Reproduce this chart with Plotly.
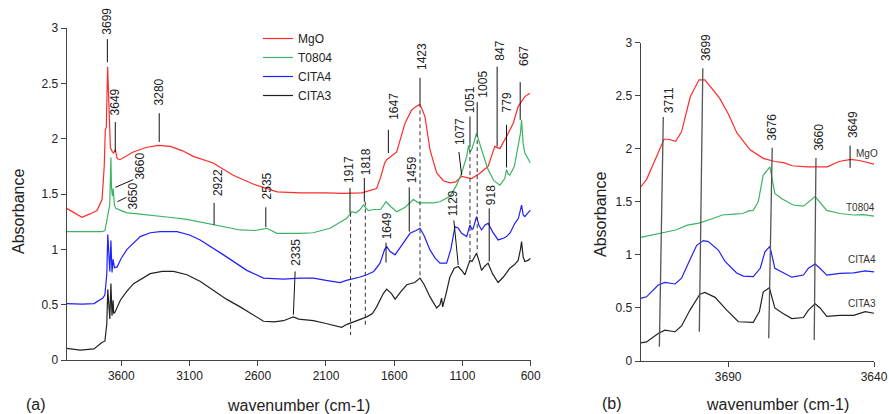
import plotly.graph_objects as go

# ---------------- data : panel (a) ----------------
series_names = ["MgO", "T0804", "CITA4", "CITA3"]
series_colors = ["#ff2a2a", "#3cb464", "#1f1fff", "#222222"]

mgo_wn = [4000, 3940, 3888, 3830, 3778, 3741, 3725, 3717, 3710, 3700, 3690, 3680, 3665, 3656, 3644, 3630, 3610,
          3580, 3512, 3420, 3329, 3241, 3150, 3073, 2927, 2780, 2634, 2458, 2290, 2100, 1980, 1838, 1780, 1729,
          1700, 1670, 1655, 1620, 1582, 1521, 1472, 1440, 1411, 1375, 1338, 1289, 1240, 1192, 1150, 1106, 1033,
          980, 912, 863, 826, 777, 728, 692, 643, 606]
mgo_abs = [1.37, 1.33, 1.29, 1.32, 1.35, 1.45, 1.75, 2.08, 2.10, 2.65, 2.20, 1.92, 1.88, 1.87, 1.90, 1.82, 1.81,
           1.83, 1.88, 1.92, 1.94, 1.93, 1.89, 1.84, 1.78, 1.67, 1.59, 1.52, 1.51, 1.51, 1.505, 1.51, 1.53, 1.55,
           1.65, 1.78, 1.81, 1.84, 1.88, 2.14, 2.26, 2.29, 2.31, 2.20, 1.90, 1.69, 1.62, 1.60, 1.61, 1.66, 1.64,
           1.68, 1.75, 1.93, 1.91, 2.02, 2.14, 2.29, 2.38, 2.41]

t0804_wn = [4000, 3900, 3800, 3740, 3720, 3700, 3685, 3676, 3672, 3665, 3660, 3650, 3640, 3600, 3558, 3480, 3388,
            3250, 3119, 3000, 2927, 2850, 2729, 2620, 2560, 2535, 2500, 2460, 2290, 2195, 2070, 2000, 1948, 1911,
            1880, 1850, 1826, 1790, 1753, 1700, 1660, 1620, 1582, 1520, 1460, 1420, 1387, 1320, 1265, 1192, 1143,
            1106, 1069, 1055, 1045, 1033, 1015, 997, 960, 912, 870, 826, 790, 777, 765, 753, 720, 692, 675, 667,
            655, 643, 602]
t0804_abs = [1.16, 1.16, 1.155, 1.16, 1.17, 1.30, 1.40, 1.83, 1.56, 1.48, 1.55, 1.40, 1.37, 1.35, 1.33, 1.32, 1.31,
             1.29, 1.27, 1.24, 1.22, 1.20, 1.175, 1.17, 1.18, 1.19, 1.17, 1.145, 1.145, 1.15, 1.19, 1.24, 1.28, 1.34,
             1.33, 1.36, 1.40, 1.35, 1.36, 1.36, 1.43, 1.38, 1.34, 1.38, 1.45, 1.42, 1.42, 1.42, 1.43, 1.48, 1.58,
             1.69, 1.84, 1.94, 1.88, 1.90, 1.97, 2.05, 1.90, 1.72, 1.62, 1.58, 1.64, 1.72, 1.68, 1.67, 1.75, 1.93,
             2.05, 2.17, 1.95, 1.87, 1.78]

cita4_wn = [4000, 3888, 3800, 3754, 3735, 3720, 3711, 3706, 3699, 3691, 3684, 3676, 3668, 3660, 3650, 3640, 3631,
            3600, 3558, 3461, 3388, 3315, 3192, 3100, 3022, 2851, 2680, 2558, 2412, 2290, 2192, 2100, 1997, 1950,
            1911, 1850, 1801, 1750, 1704, 1670, 1655, 1630, 1594, 1540, 1484, 1440, 1411, 1380, 1338, 1300, 1265,
            1216, 1185, 1155, 1130, 1106, 1069, 1045, 1030, 1021, 997, 980, 960, 935, 912, 880, 839, 800, 777, 750,
            716, 690, 675, 667, 655, 643, 620, 602]
cita4_abs = [0.51, 0.505, 0.51, 0.54, 0.56, 0.59, 0.74, 0.78, 1.135, 0.94, 0.80, 1.08, 0.79, 0.91, 0.83, 0.84, 0.84,
             0.92, 1.00, 1.115, 1.15, 1.16, 1.16, 1.13, 1.085, 0.95, 0.81, 0.74, 0.73, 0.74, 0.74, 0.72, 0.70, 0.72,
             0.73, 0.75, 0.77, 0.80, 0.875, 1.00, 1.025, 0.98, 0.95, 1.05, 1.145, 1.17, 1.19, 1.12, 0.995, 0.92, 0.875,
             0.875, 1.00, 1.205, 1.19, 1.145, 1.115, 1.22, 1.18, 1.19, 1.295, 1.22, 1.175, 1.22, 1.235, 1.16, 1.085,
             1.10, 1.115, 1.15, 1.235, 1.28, 1.36, 1.40, 1.31, 1.295, 1.33, 1.355]

cita3_wn = [4000, 3900, 3800, 3760, 3740, 3720, 3711, 3706, 3699, 3690, 3684, 3676, 3672, 3668, 3660, 3656, 3647,
            3640, 3620, 3607, 3560, 3510, 3388, 3300, 3217, 3119, 3020, 2924, 2830, 2729, 2640, 2558, 2480, 2412,
            2360, 2339, 2300, 2192, 2100, 1985, 1950, 1911, 1860, 1801, 1760, 1729, 1680, 1655, 1620, 1594, 1550,
            1508, 1450, 1411, 1380, 1338, 1289, 1265, 1253, 1245, 1220, 1192, 1160, 1131, 1100, 1082, 1060, 1045,
            1030, 997, 980, 960, 935, 912, 880, 839, 800, 753, 720, 692, 675, 667, 655, 643, 620, 602]
cita3_abs = [0.105, 0.09, 0.10, 0.14, 0.16, 0.17, 0.29, 0.33, 0.64, 0.48, 0.37, 0.69, 0.47, 0.40, 0.54, 0.42, 0.43,
             0.45, 0.50, 0.54, 0.62, 0.69, 0.78, 0.80, 0.80, 0.77, 0.71, 0.63, 0.55, 0.48, 0.41, 0.35, 0.345, 0.355,
             0.38, 0.39, 0.37, 0.355, 0.33, 0.295, 0.32, 0.34, 0.36, 0.39, 0.42, 0.48, 0.60, 0.64, 0.60, 0.55, 0.62,
             0.68, 0.70, 0.74, 0.68, 0.57, 0.47, 0.50, 0.56, 0.48, 0.60, 0.75, 0.83, 0.845, 0.80, 0.77, 0.85, 0.90,
             0.89, 0.965, 0.90, 0.81, 0.85, 0.875, 0.78, 0.70, 0.75, 0.83, 0.86, 0.90, 1.00, 1.07, 0.93, 0.89, 0.90,
             0.92]

# ---------------- data : panel (b) ----------------
mgo_b_wn = [3720, 3718, 3712, 3710.5, 3708, 3706, 3703, 3700, 3698, 3693, 3690, 3687, 3682.5, 3678, 3674, 3671,
            3668, 3663, 3656, 3652, 3648, 3645, 3640]
mgo_b_abs = [1.64, 1.71, 2.09, 2.09, 2.07, 2.16, 2.49, 2.65, 2.65, 2.48, 2.33, 2.15, 1.99, 1.91, 1.88, 1.87,
             1.84, 1.83, 1.83, 1.88, 1.90, 1.89, 1.855]

t0804_b_wn = [3720, 3714, 3708, 3704, 3700, 3695, 3692, 3688, 3685, 3683, 3681.4, 3679.7, 3678, 3675.7, 3674,
              3671.6, 3667.7, 3664.2, 3660.2, 3656.2, 3651.7, 3647, 3643.7, 3640]
t0804_b_abs = [1.165, 1.20, 1.235, 1.28, 1.30, 1.345, 1.376, 1.385, 1.39, 1.415, 1.42, 1.50, 1.75, 1.83, 1.58,
               1.53, 1.47, 1.46, 1.55, 1.42, 1.39, 1.376, 1.38, 1.365]

cita4_b_wn = [3720, 3718, 3714, 3711.7, 3708.2, 3706, 3703.7, 3700.8, 3698.5, 3696.8, 3693.4, 3691, 3687.1,
              3684.8, 3681.4, 3679, 3677.4, 3675.7, 3674, 3671.6, 3668.2, 3664.2, 3662.5, 3660.2, 3658.5, 3656.2,
              3651.7, 3647, 3643, 3640]
cita4_b_abs = [0.59, 0.605, 0.716, 0.74, 0.726, 0.78, 0.92, 1.09, 1.135, 1.125, 1.046, 0.936, 0.83, 0.80, 0.795,
               0.874, 1.03, 1.08, 0.874, 0.84, 0.79, 0.81, 0.874, 0.914, 0.874, 0.81, 0.826, 0.83, 0.85, 0.84]

cita3_b_wn = [3720, 3718, 3714, 3711.7, 3708.2, 3706, 3703.1, 3699.7, 3698, 3694.5, 3690.5, 3686.5, 3681.4,
              3679.3, 3678, 3675.9, 3674, 3671.6, 3668.2, 3664.2, 3662.5, 3660.2, 3658.5, 3656.2, 3651.7, 3647,
              3643, 3640]
cita3_b_abs = [0.17, 0.18, 0.26, 0.29, 0.276, 0.33, 0.48, 0.63, 0.647, 0.60, 0.48, 0.37, 0.365, 0.465, 0.65,
               0.69, 0.50, 0.455, 0.40, 0.41, 0.48, 0.54, 0.50, 0.42, 0.43, 0.43, 0.465, 0.45]

# ---------------- peak labels ----------------
labels_a = ["3699", "3649", "3280", "3660", "3650", "2922", "2535", "2335", "1917", "1818", "1647", "1459",
            "1423", "1649", "1129", "1077", "1051", "1005", "918", "847", "779", "667"]
labels_a_wn = [3702, 3644, 3322, 3461, 3512, 2890, 2531, 2326, 1936, 1801, 1607, 1472,
               1395, 1651, 1170, 1118, 1045, 948, 892, 826, 777, 648]
labels_a_abs = [2.92, 2.19, 2.28, 1.61, 1.34, 1.46, 1.43, 0.83, 1.58, 1.655, 2.15, 1.58,
                2.60, 1.07, 1.28, 1.92, 2.215, 2.35, 1.38, 2.685, 2.215, 2.64]
# leader lines (wn0, abs0, wn1, abs1)
leaders_a = [(3702, 2.90, 3702, 2.69), (3644, 2.15, 3644, 1.88), (3322, 2.23, 3322, 1.97),
             (3512, 1.63, 3644, 1.56), (3563, 1.47, 3629, 1.43), (2920, 1.42, 2920, 1.22),
             (2541, 1.38, 2541, 1.20), (2326, 0.80, 2339, 0.41), (1924, 1.555, 1924, 1.33),
             (1819, 1.645, 1819, 1.43), (1643, 2.08, 1643, 1.87), (1490, 1.56, 1490, 1.16),
             (1411, 2.55, 1411, 2.32), (1660, 1.06, 1660, 0.88), (1163, 1.26, 1131, 0.86),
             (1126, 1.88, 1106, 1.67), (1045, 2.20, 1045, 1.96), (992, 2.33, 992, 2.05),
             (904, 1.37, 904, 0.89), (846, 2.65, 846, 1.93), (777, 2.125, 777, 1.74), (677, 2.51, 677, 2.17)]
dashed_a = [(1920, 1.33, 1920, 0.226), (1812, 1.43, 1812, 0.30), (1411, 2.32, 1411, 0.75),
            (1045, 1.96, 1045, 0.88), (992, 2.05, 992, 0.97)]

labels_b = ["3711", "3699", "3676", "3660", "3649"]
labels_b_wn = [3710.5, 3697.4, 3674.9, 3659.1, 3647.1]
labels_b_abs = [2.32, 2.81, 2.055, 1.96, 2.08]
leaders_b = [(3712.25, 2.30, 3713.6, 0.135), (3698.7, 2.76, 3699.9, 0.276), (3674.9, 2.01, 3676.1, 0.214),
             (3659.9, 1.913, 3660.5, 0.198), (3648.2, 2.03, 3648.2, 1.82)]
series_b_label_wn = [3642.5, 3644.8, 3644.2, 3644.2]
series_b_label_abs = [1.96, 1.45, 0.96, 0.54]

# ---------------- figure ----------------
FONT = "Liberation Sans, Arial, sans-serif"
TXT = "#222222"
fig = go.Figure()

a_data = [(mgo_wn, mgo_abs), (t0804_wn, t0804_abs), (cita4_wn, cita4_abs), (cita3_wn, cita3_abs)]
b_data = [(mgo_b_wn, mgo_b_abs), (t0804_b_wn, t0804_b_abs), (cita4_b_wn, cita4_b_abs), (cita3_b_wn, cita3_b_abs)]

for name, col, (wx, ay) in zip(series_names, series_colors, a_data):
    fig.add_trace(go.Scatter(x=wx, y=ay, mode="lines", name=name, line=dict(color=col, width=1.2),
                             xaxis="x", yaxis="y"))
for name, col, (wx, ay) in zip(series_names, series_colors, b_data):
    fig.add_trace(go.Scatter(x=wx, y=ay, mode="lines", name=name, showlegend=False,
                             line=dict(color=col, width=1.2), xaxis="x2", yaxis="y2"))

shapes = []
for (x0, y0, x1, y1) in leaders_a:
    shapes.append(dict(type="line", xref="x", yref="y", x0=x0, y0=y0, x1=x1, y1=y1,
                       line=dict(color="#111111", width=1)))
for (x0, y0, x1, y1) in dashed_a:
    shapes.append(dict(type="line", xref="x", yref="y", x0=x0, y0=y0, x1=x1, y1=y1,
                       line=dict(color="#333333", width=1, dash="4px,3px")))
for i, (x0, y0, x1, y1) in enumerate(leaders_b):
    shapes.append(dict(type="line", xref="x2", yref="y2", x0=x0, y0=y0, x1=x1, y1=y1,
                       line=dict(color="#111111" if i == 4 else "#555555", width=1.3 if i < 4 else 1)))

annotations = []
for t, wx, ay in zip(labels_a, labels_a_wn, labels_a_abs):
    annotations.append(dict(text=t, x=wx, y=ay, xref="x", yref="y", showarrow=False, textangle=-90,
                            xanchor="center", yanchor="bottom", font=dict(family=FONT, size=12, color=TXT)))
for t, wx, ay in zip(labels_b, labels_b_wn, labels_b_abs):
    annotations.append(dict(text=t, x=wx, y=ay, xref="x2", yref="y2", showarrow=False, textangle=-90,
                            xanchor="center", yanchor="bottom", font=dict(family=FONT, size=12, color=TXT)))
for t, wx, ay in zip(series_names, series_b_label_wn, series_b_label_abs):
    annotations.append(dict(text=t, x=wx, y=ay, xref="x2", yref="y2", showarrow=False,
                            xanchor="center", yanchor="middle", font=dict(family=FONT, size=10, color="#333333")))

W, H = 889, 414
def px_x(p): return p / W
def px_y(p): return 1 - p / H

title_font = dict(family=FONT, size=16, color=TXT)
annotations += [
    dict(text="Absorbance", x=px_x(18), y=px_y(212), xref="paper", yref="paper", showarrow=False,
         textangle=-90, font=title_font, xanchor="center", yanchor="middle"),
    dict(text="Absorbance", x=px_x(600), y=px_y(215), xref="paper", yref="paper", showarrow=False,
         textangle=-90, font=title_font, xanchor="center", yanchor="middle"),
    dict(text="wavenumber (cm-1)", x=px_x(298), y=px_y(405), xref="paper", yref="paper", showarrow=False,
         font=title_font, xanchor="center", yanchor="middle"),
    dict(text="wavenumber (cm-1)", x=px_x(777), y=px_y(404), xref="paper", yref="paper", showarrow=False,
         font=title_font, xanchor="center", yanchor="middle"),
    dict(text="(a)", x=px_x(35.5), y=px_y(404), xref="paper", yref="paper", showarrow=False,
         font=title_font, xanchor="center", yanchor="middle"),
    dict(text="(b)", x=px_x(612), y=px_y(403), xref="paper", yref="paper", showarrow=False,
         font=title_font, xanchor="center", yanchor="middle"),
]

axis_common = dict(showgrid=False, zeroline=False, showline=True, linecolor="#444444", linewidth=1,
                   ticks="outside", ticklen=5, tickcolor="#444444", tickwidth=1, automargin=False,
                   tickfont=dict(family=FONT, size=12, color=TXT))

fig.update_layout(
    width=W, height=H, autosize=False,
    margin=dict(l=0, r=0, t=0, b=0, pad=0, autoexpand=False),
    paper_bgcolor="white", plot_bgcolor="white",
    font=dict(family=FONT, size=12, color=TXT),
    xaxis=dict(domain=[66.7 / W, 530.7 / W], range=[4000, 600], tickvals=[3600, 3100, 2600, 2100, 1600, 1100, 600],
               anchor="y", **axis_common),
    yaxis=dict(domain=[1 - 360 / H, 1 - 28 / H], range=[0, 3],
               tickvals=[0, 0.5, 1, 1.5, 2, 2.5, 3], ticktext=["0", "0.5", "1", "1.5", "2", "2.5", "3"],
               anchor="x", **axis_common),
    xaxis2=dict(domain=[640.7 / W, 874 / W], range=[3720, 3640], tickvals=[3690, 3640], anchor="y2",
                **axis_common),
    yaxis2=dict(domain=[1 - 361 / H, 1 - 42.7 / H], range=[0, 3],
                tickvals=[0, 0.5, 1, 1.5, 2, 2.5, 3], ticktext=["0", "0.5", "1", "1.5", "2", "2.5", "3"],
                anchor="x2", **axis_common),
    legend=dict(x=258 / W, y=1 - 24 / H, xanchor="left", yanchor="top", bgcolor="rgba(0,0,0,0)",
                font=dict(family=FONT, size=12, color=TXT), itemwidth=30, tracegroupgap=0),
    shapes=shapes,
    annotations=annotations,
)

fig.write_html("out.html", config={"displayModeBar": False},
               post_script="document.body.style.margin='0';document.body.style.overflow='hidden';")
